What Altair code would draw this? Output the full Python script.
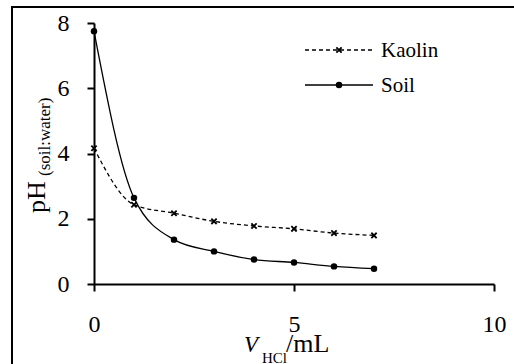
import altair as alt
import pandas as pd

# ---- data ----
volume = [0, 1, 2, 3, 4, 5, 6, 7]
soil = [7.75, 2.64, 1.36, 1.00, 0.75, 0.66, 0.54, 0.47]
kaolin = [4.16, 2.43, 2.17, 1.92, 1.78, 1.69, 1.56, 1.49]
x_ticks = [0, 5, 10]
y_ticks = [0, 2, 4, 6, 8]
series_names = ["Kaolin", "Soil"]

FONT = "Liberation Serif, Times New Roman, Times, serif"
X_SHAPE = "M-1,-1L1,1M-1,1L1,-1"

df = pd.DataFrame({
    "V": volume * 2,
    "pH": kaolin + soil,
    "series": [series_names[0]] * len(volume) + [series_names[1]] * len(volume),
})

xscale = alt.Scale(domain=[0, 10], nice=False, zero=False)
yscale = alt.Scale(domain=[0, 8], nice=False)

xaxis = alt.Axis(values=x_ticks, title=None, grid=False, tickSize=7, labelPadding=21,
                 labelFontSize=24, labelFont=FONT, labelColor="black",
                 domainColor="black", domainWidth=2, tickColor="black", tickWidth=2,
                 labelFlush=False)
yaxis = alt.Axis(values=y_ticks, title=None, grid=False, tickSize=7, labelPadding=18,
                 labelFontSize=24, labelFont=FONT, labelColor="black",
                 domainColor="black", domainWidth=2, tickColor="black", tickWidth=2)

base = alt.Chart(df)
kdf = base.transform_filter(alt.datum.series == "Kaolin")
sdf = base.transform_filter(alt.datum.series == "Soil")

enc = dict(x=alt.X("V:Q", scale=xscale, axis=xaxis), y=alt.Y("pH:Q", scale=yscale, axis=yaxis))

k_line = kdf.mark_line(color="black", strokeWidth=1.3, strokeDash=[4, 3], interpolate="monotone").encode(**enc)
k_pts = kdf.mark_point(shape=X_SHAPE, filled=False, color="black", strokeWidth=1.8, size=28, opacity=1).encode(**enc)
s_line = sdf.mark_line(color="black", strokeWidth=1.3, interpolate="monotone").encode(**enc)
s_pts = sdf.mark_circle(color="black", size=42, opacity=1).encode(**enc)

one = alt.Chart(pd.DataFrame({"a": [0]}))

# legend (manual, inside plot)
leg_k_line = one.mark_rule(color="black", strokeWidth=1.3, strokeDash=[4, 3]).encode(
    x=alt.value(211), x2=alt.value(279), y=alt.value(27))
leg_k_pt = one.mark_point(shape=X_SHAPE, filled=False, color="black", strokeWidth=1.8, size=28, opacity=1).encode(
    x=alt.value(245), y=alt.value(27))
leg_k_txt = one.mark_text(text=series_names[0], font=FONT, fontSize=21, align="left", baseline="middle", color="black").encode(
    x=alt.value(287), y=alt.value(28))
leg_s_line = one.mark_rule(color="black", strokeWidth=1.3).encode(
    x=alt.value(211), x2=alt.value(279), y=alt.value(62))
leg_s_pt = one.mark_circle(color="black", size=42, opacity=1).encode(x=alt.value(245), y=alt.value(62))
leg_s_txt = one.mark_text(text=series_names[1], font=FONT, fontSize=21, align="left", baseline="middle", color="black").encode(
    x=alt.value(287), y=alt.value(63))

# axis titles with sub-scripts
y_main = one.mark_text(text="pH", font=FONT, fontSize=26, angle=270, align="left", baseline="alphabetic", color="black").encode(
    x=alt.value(-49), y=alt.value(190))
y_sub = one.mark_text(text="(soil:water)", font=FONT, fontSize=17, angle=270, align="left", baseline="alphabetic", color="black").encode(
    x=alt.value(-44), y=alt.value(153))
x_v = one.mark_text(text="V", font=FONT, fontSize=23, fontStyle="italic", align="left", baseline="alphabetic", color="black").encode(
    x=alt.value(150), y=alt.value(329))
x_sub = one.mark_text(text="HCl", font=FONT, fontSize=15, align="left", baseline="alphabetic", color="black").encode(
    x=alt.value(168), y=alt.value(340))
x_unit = one.mark_text(text="/mL", font=FONT, fontSize=26, align="left", baseline="alphabetic", color="black").encode(
    x=alt.value(192), y=alt.value(329))

# outer frame (left and top edges visible)
frame_left = one.mark_rule(color="black", strokeWidth=2).encode(
    x=alt.value(-82), y=alt.value(-16), y2=alt.value(360))
frame_top = one.mark_rule(color="black", strokeWidth=2).encode(
    x=alt.value(-83), x2=alt.value(440), y=alt.value(-16))

chart = alt.layer(
    k_line, k_pts, s_line, s_pts,
    leg_k_line, leg_k_pt, leg_k_txt, leg_s_line, leg_s_pt, leg_s_txt,
    y_main, y_sub, x_v, x_sub, x_unit, frame_left, frame_top,
).properties(
    width=400, height=261,
    padding={"left": 94, "top": 23, "right": 20, "bottom": 80},
    autosize=alt.AutoSizeParams(type="none"),
    background="white",
).configure_view(stroke=None)

chart.save("out.html", embed_options={"renderer": "svg", "actions": False})
